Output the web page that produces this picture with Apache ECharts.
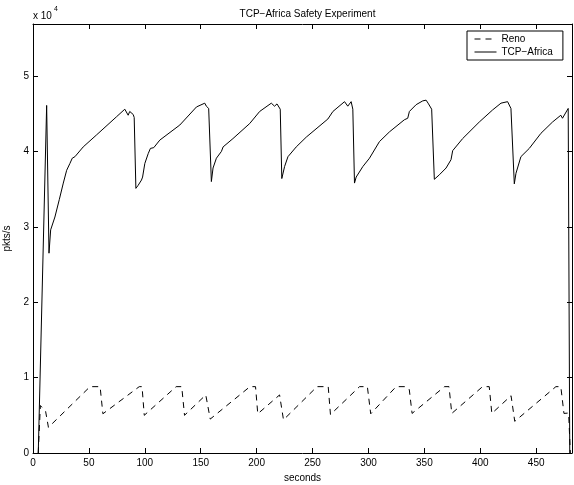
<!DOCTYPE html>
<html><head><meta charset="utf-8">
<script src="https://cdn.jsdelivr.net/npm/echarts@6/dist/echarts.min.js"></script>
<style>html,body{margin:0;padding:0;background:#fff}#c{width:574px;height:485px}</style>
</head><body><div id="c"></div>
<script>
// ---- data (seconds, pkts/s) ----
const xTickStep = 50;
const yTickStep = 10000;
const yTickLabels = ['0', '1', '2', '3', '4', '5'];
const seriesNames = ['Reno', 'TCP\u2212Africa'];

const renoT = [4.7, 6.6, 11.3, 13.8, 14.5, 51, 60, 62.5, 95, 97.5, 99.5, 128, 133, 135.5,
  154.5, 158.5, 194, 199, 201, 220.5, 224, 254, 264, 266, 292, 299, 302, 324.7, 334, 336.5, 339,
  368, 372, 374.5, 402, 408, 410.3, 427.5, 430.8, 467.6, 472, 474.8, 479, 480.5];
const renoV = [0, 6300, 5500, 3400, 3300, 8800, 8800, 5200, 8800, 8800, 5000, 8800, 8800, 5000,
  7700, 4500, 8800, 8800, 5200, 7700, 4400, 8800, 8800, 5100, 8800, 8800, 5200, 8800, 8800, 8400, 5250,
  8800, 8800, 5250, 8800, 8800, 5250, 7600, 4200, 8800, 8800, 5250, 5300, 0];

const africaT = [4.7, 12.2, 14.3, 15.8, 19.6, 23.5, 27.1, 30.1, 33, 35.1, 37.5, 44.9, 56.9, 74.7, 82.1,
  83.5, 85.1, 86.5, 88.1, 89.6, 90.5, 92, 94, 97, 98, 100, 103, 105, 108, 113.4, 131.3, 146.2, 153.6,
  155, 157.1, 159.5, 161, 164, 168.5, 170, 178.8, 193.8, 202.7, 213.1, 216, 218.2, 221.1, 222.5,
  225, 228, 235.4, 244.4, 263.7, 268.2, 278.6, 281.5, 284.5, 286, 287.5, 289, 295, 300.9, 309.8,
  318.8, 332.1, 335.1, 336.6, 342.6, 348.5, 351.5, 353.3, 356.5, 358.9, 363.4, 369.4, 373.8, 375.3,
  384.2, 399.1, 411, 418.5, 424.4, 427.4, 430.4, 431.9, 436.3, 443.8, 454.2, 464.6, 472, 473.5,
  478.6, 480];
const africaV = [0, 46100, 26500, 29600, 31300, 33600, 35800, 37500, 38400, 39100, 39300, 40600, 42200, 44600, 45600,
  45500, 44800, 45300, 45400, 44900, 44500, 35100, 35500, 36200, 36600, 38400, 39700, 40400, 40500, 41500, 43500, 45900, 46400,
  46000, 45700, 36000, 37800, 39100, 40000, 40600, 41700, 43700, 45300, 46400, 46000, 46300, 45600, 36400,
  38000, 39300, 40600, 41900, 44300, 45300, 46600, 46000, 46600, 45600, 35800, 36600, 38000, 39100, 41300,
  42600, 44200, 44400, 45300, 46200, 46700, 46800, 46400, 45600, 36300, 36900, 37800, 38900, 40100,
  41700, 43900, 45500, 46400, 46600, 45700, 35700, 37100, 39300, 40400, 42400, 43900, 44800, 44400,
  45700, 0];

const xMin = 0, xMax = 482, yMin = 0, yMax = 56900;

const FONT = '"Liberation Sans", Arial, Helvetica, sans-serif';
const zip = (a, b) => a.map((t, i) => [t, b[i]]);

const axisCommon = () => ({
  axisLine: { show: true, onZero: false, lineStyle: { color: '#000', width: 1 } },
  axisTick: { show: true, inside: true, length: 5, lineStyle: { color: '#000', width: 1 } },
  splitLine: { show: false }
});

const chart = echarts.init(document.getElementById('c'), null, { renderer: 'canvas' });
chart.setOption({
  animation: false,
  backgroundColor: '#fff',
  textStyle: { fontFamily: FONT },
  title: {
    text: 'TCP\u2212Africa Safety Experiment',
    left: 302.5, top: 4, textAlign: 'center',
    textStyle: { fontSize: 10, fontWeight: 'normal', color: '#000', fontFamily: FONT }
  },
  graphic: [
    { type: 'text', left: 33, top: 11, style: { text: 'x 10', fontSize: 10, fill: '#000', fontFamily: FONT } },
    { type: 'text', left: 54, top: 6, style: { text: '4', fontSize: 7, fill: '#000', fontFamily: FONT } }
  ],
  legend: {
    orient: 'vertical', left: 467, top: 31,
    padding: [3, 10, 3, 7], itemGap: 3, itemWidth: 22, itemHeight: 10,
    borderColor: '#000', borderWidth: 1, backgroundColor: '#fff', borderRadius: 0,
    itemStyle: { opacity: 0 },
    lineStyle: { width: 1 },
    textStyle: { fontSize: 10, color: '#000', fontFamily: FONT },
    data: seriesNames
  },
  grid: { left: 33, top: 24, right: 2, bottom: 32, outerBoundsMode: 'none', containLabel: false },
  xAxis: [
    Object.assign(axisCommon(), {
      type: 'value', min: xMin, max: xMax, interval: xTickStep, position: 'bottom',
      name: 'seconds', nameLocation: 'middle', nameGap: 19,
      nameTextStyle: { fontSize: 10, color: '#000', fontFamily: FONT },
      axisLabel: { show: true, margin: 5, fontSize: 10, color: '#000', fontFamily: FONT, showMaxLabel: false }
    }),
    Object.assign(axisCommon(), {
      type: 'value', min: xMin, max: xMax, interval: xTickStep, position: 'top',
      axisLabel: { show: false }
    })
  ],
  yAxis: [
    Object.assign(axisCommon(), {
      type: 'value', min: yMin, max: yMax, interval: yTickStep, position: 'left',
      name: 'pkts/s', nameLocation: 'middle', nameGap: 12,
      nameTextStyle: { fontSize: 10, color: '#000', fontFamily: FONT },
      axisLabel: {
        show: true, margin: 4, fontSize: 10, color: '#000', fontFamily: FONT, showMaxLabel: false,
        formatter: v => { const i = Math.round(v / yTickStep); return (Math.abs(v - i * yTickStep) < 1e-6 && yTickLabels[i] !== undefined) ? yTickLabels[i] : ''; }
      }
    }),
    Object.assign(axisCommon(), {
      type: 'value', min: yMin, max: yMax, interval: yTickStep, position: 'right',
      axisLabel: { show: false }
    })
  ],
  series: [
    {
      name: seriesNames[0], type: 'line', xAxisIndex: 0, yAxisIndex: 0,
      data: zip(renoT, renoV), symbol: 'none', showSymbol: false,
      lineStyle: { color: '#000', width: 1, type: [6, 5] },
      itemStyle: { color: '#000' }
    },
    {
      name: seriesNames[1], type: 'line', xAxisIndex: 0, yAxisIndex: 0,
      data: zip(africaT, africaV), symbol: 'none', showSymbol: false,
      lineStyle: { color: '#000', width: 1, type: 'solid' },
      itemStyle: { color: '#000' }
    }
  ]
});
</script>
</body></html>
